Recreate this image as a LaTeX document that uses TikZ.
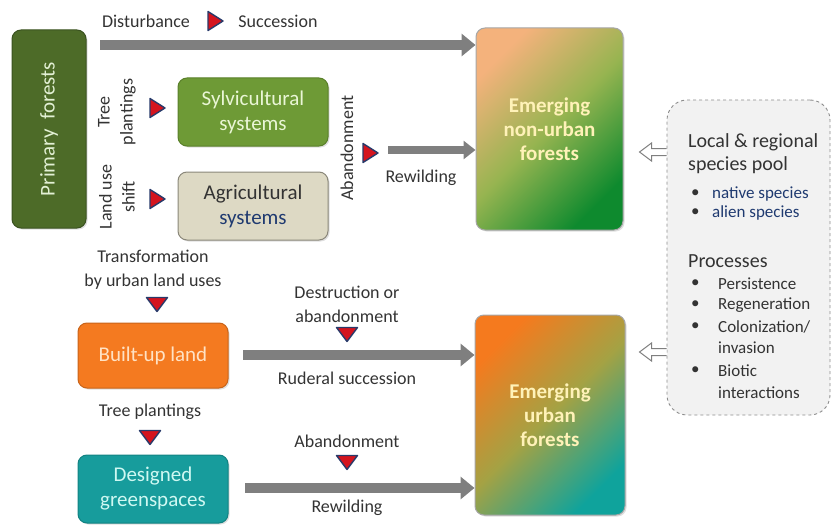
\documentclass[tikz,border=0pt]{standalone}
\usepackage{fontspec}
\setmainfont{Carlito}
\usetikzlibrary{arrows.meta,shadows,calc}
\newcommand\myfs[2]{\fontsize{#1}{#2}\selectfont}
\definecolor{pfgreen}{HTML}{4D6B28}
\definecolor{pfborder}{HTML}{3A5220}
\definecolor{pftext}{HTML}{E2F0D4}
\definecolor{sylgreen}{HTML}{6E9A36}
\definecolor{sylborder}{HTML}{5A802A}
\definecolor{syltext}{HTML}{EAF6D6}
\definecolor{agrfill}{HTML}{DDD9C4}
\definecolor{agrborder}{HTML}{8A877A}
\definecolor{agrblue}{HTML}{1F3A70}
\definecolor{buorange}{HTML}{F47A20}
\definecolor{buborder}{HTML}{C8641A}
\definecolor{butext}{HTML}{FFE2C4}
\definecolor{dgteal}{HTML}{179C9C}
\definecolor{dgborder}{HTML}{128282}
\definecolor{dgtext}{HTML}{CFF8F2}
\definecolor{emtext}{HTML}{FFF2B8}
\definecolor{arrowgray}{HTML}{7F7F7F}
\definecolor{lbltext}{HTML}{333333}
\definecolor{trired}{HTML}{D4141E}
\definecolor{trinavy}{HTML}{283A6A}
\definecolor{poolfill}{HTML}{F2F2F2}
\definecolor{poolborder}{HTML}{8C8C8C}
\definecolor{nufA}{HTML}{F4B27C}
\definecolor{nufB}{HTML}{96B450}
\definecolor{nufC}{HTML}{0E8A2E}
\definecolor{ufA}{HTML}{F57A1E}
\definecolor{ufB}{HTML}{A4A244}
\definecolor{ufC}{HTML}{0FA39C}
\begin{document}
\begin{tikzpicture}[x=1pt,y=-1pt,
  box/.style={rounded corners=9pt, align=center, inner sep=0pt, line width=1pt,
    drop shadow={shadow xshift=1.5pt, shadow yshift=-1.5pt, opacity=0.25}},
  boxtext/.style={align=center, font=\myfs{21}{25}},
  emtxt/.style={align=center, font=\myfs{21}{24}\bfseries},
  lbl/.style={align=center, text=lbltext, font=\myfs{18}{24}},
  garrow/.style={draw=arrowgray, line width=10pt, -{Triangle[length=14pt,width=22pt]}},
  garrowsmall/.style={draw=arrowgray, line width=8pt, -{Triangle[length=12pt,width=18pt]}},
  openarr/.style={draw=arrowgray, fill=white, line width=1pt, line join=miter},
  rtri/.pic={\path[fill=trired, draw=trinavy, line width=1.4pt, line join=round] (-7,-9.5) -- (8,0) -- (-7,9.5) -- cycle;},
  dtri/.pic={\path[fill=trired, draw=trinavy, line width=1.4pt, line join=round] (-10.5,-6.5) -- (10.5,-6.5) -- (0,7.5) -- cycle;},
  pooltxt/.style={anchor=west, text=lbltext, inner sep=0pt},
]
\useasboundingbox (0,0) rectangle (833,527);

% ---------- boxes ----------
\node[box, fill=pfgreen, draw=pfborder, minimum width=74pt, minimum height=198pt] (pf) at (49,129) {};
\node[rotate=90, text=pftext, font=\myfs{21}{25}] (pft) at (pf.center) {Primary\ \ forests};

\node[box, fill=sylgreen, draw=sylborder, minimum width=150pt, minimum height=68pt,
      boxtext, text=syltext] (syl) at (253,112) {Sylvicultural\\systems};
\node[box, fill=agrfill, draw=agrborder, minimum width=150pt, minimum height=68pt,
      boxtext, text=black!80] (agr) at (253,206) {Agricultural\\\textcolor{agrblue}{systems}};

\node[box, draw=gray!70, top color=nufA, bottom color=nufC, middle color=nufB, shading angle=45,
      minimum width=147pt, minimum height=202pt, emtxt, text=emtext] (nuf) at (549.5,129)
      {Emerging\\non-urban\\forests};
\node[box, draw=gray!70, top color=ufA, bottom color=ufC, middle color=ufB, shading angle=45,
      minimum width=150pt, minimum height=200pt, emtxt, text=emtext] (uf) at (550,415)
      {Emerging\\urban\\forests};

\node[box, fill=buorange, draw=buborder, minimum width=150pt, minimum height=65pt,
      boxtext, text=butext] (bu) at (153,355.5) {Built-up land};
\node[box, fill=dgteal, draw=dgborder, minimum width=150pt, minimum height=68pt,
      boxtext, text=dgtext] (dg) at (153,489) {Designed\\greenspaces};

\node[draw=poolborder, dashed, fill=poolfill, rounded corners=20pt, line width=0.9pt,
      minimum width=163pt, minimum height=315pt, inner sep=0pt] (pool) at (748.5,257.5) {};

% ---------- pool text ----------
\node[pooltxt, font=\myfs{20}{24}] (pl1) at (688,142) {Local \& regional};
\node[pooltxt, font=\myfs{20}{24}] (pl2) at (688,165) {species pool};
\node[pooltxt, font=\myfs{17}{20}] (pb1) at (691,194) {\textbullet};
\node[pooltxt, font=\myfs{17}{20}, text=agrblue] (pn1) at (712,194) {native species};
\node[pooltxt, font=\myfs{17}{20}] (pb2) at (691,213) {\textbullet};
\node[pooltxt, font=\myfs{17}{20}, text=agrblue] (pn2) at (712,213) {alien species};
\node[pooltxt, font=\myfs{20}{24}] (pp) at (688,261) {Processes};
\node[pooltxt, font=\myfs{17}{20}] (pq1) at (691,284) {\textbullet};
\node[pooltxt, font=\myfs{17}{20}] (pr1) at (718,284) {Persistence};
\node[pooltxt, font=\myfs{17}{20}] (pq2) at (691,305) {\textbullet};
\node[pooltxt, font=\myfs{17}{20}] (pr2) at (718,305) {Regeneration};
\node[pooltxt, font=\myfs{17}{20}] (pq3) at (691,327) {\textbullet};
\node[pooltxt, font=\myfs{17}{20}] (pr3) at (718,327) {Colonization/};
\node[pooltxt, font=\myfs{17}{20}] (pr3b) at (718,348) {invasion};
\node[pooltxt, font=\myfs{17}{20}] (pq4) at (691,371) {\textbullet};
\node[pooltxt, font=\myfs{17}{20}] (pr4) at (718,371) {Biotic};
\node[pooltxt, font=\myfs{17}{20}] (pr4b) at (718,393) {interactions};

% ---------- top labels and arrow ----------
\node[lbl] (dist) at (146,21) {Disturbance};
\pic at (215,21) {rtri};
\node[lbl] (succ) at (278,21) {Succession};
\coordinate (a1s) at (100,45);
\draw[garrow] (a1s) -- (nuf.west |- a1s);

\node[lbl, rotate=90, font=\myfs{18}{23}] (tp) at (117,112) {Tree\\plantings};
\pic at (157,108) {rtri};
\node[lbl, rotate=90, font=\myfs{18}{23}] (lus) at (117,197) {Land use\\shift};
\pic at (157,199) {rtri};

\node[lbl, rotate=90] (aband1) at (347,148) {Abandonment};
\pic at (370,153) {rtri};
\coordinate (a2s) at (388,150);
\draw[garrowsmall] (a2s) -- (nuf.west |- a2s);
\node[lbl] (rew1) at (421,178) {Rewilding};

% ---------- open (outlined) arrows from the species pool ----------
\coordinate (o1) at (pool.west |- 0,152);
\coordinate (o2) at (pool.west |- 0,352);
\draw[openarr] ($(o1)+(0,-3.5)$) -- ++(-15,0) -- ++(0,-5.5) -- ++(-12,9) -- ++(12,9) -- ++(0,-5.5) -- ++(15,0);
\draw[openarr] ($(o2)+(0,-3.5)$) -- ++(-15,0) -- ++(0,-5.5) -- ++(-12,9) -- ++(12,9) -- ++(0,-5.5) -- ++(15,0);

% ---------- bottom ----------
\node[lbl] (trans) at (153,270) {Transformation\\by urban land uses};
\pic at (157,304) {dtri};
\node[lbl] (destr) at (347,304) {Destruction or\\abandonment};
\pic at (347,334) {dtri};
\coordinate (a3s) at (243,355);
\draw[garrow] (a3s) -- (uf.west |- a3s);
\node[lbl] (rud) at (347,378) {Ruderal succession};

\node[lbl] (treep) at (150,412) {Tree plantings};
\pic at (150,437) {dtri};
\node[lbl] (aband2) at (347,441) {Abandonment};
\pic at (347,462) {dtri};
\coordinate (a4s) at (245,488);
\draw[garrow] (a4s) -- (uf.west |- a4s);
\node[lbl] (rew2) at (347,508) {Rewilding};
\end{tikzpicture}
\end{document}
